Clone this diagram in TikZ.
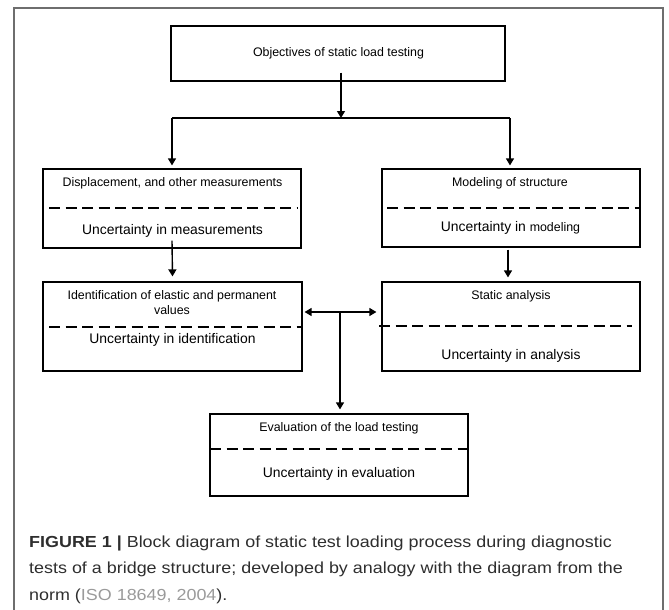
\documentclass[tikz,border=0pt]{standalone}
\usepackage{fontspec}
\setmainfont{Liberation Sans}
\newfontfamily\capfont[FakeStretch=1.12]{Liberation Sans}
\usetikzlibrary{arrows.meta,calc}
\definecolor{framegray}{HTML}{6E6E6E}
\definecolor{captext}{HTML}{2E2E2E}
\definecolor{refgray}{HTML}{9A9A9A}
\begin{document}
\begin{tikzpicture}[x=1pt,y=-1pt,
  box/.style={draw=black, line width=1.2pt, inner sep=0pt, rectangle},
  hdr/.style={font=\fontsize{12.4}{14}\selectfont, inner sep=0pt, text height=9pt, text depth=2.6pt},
  unc/.style={font=\fontsize{13.9}{16}\selectfont, inner sep=0pt, text height=10pt, text depth=2.9pt},
  sepline/.style={line width=1.8pt, dash pattern=on 11pt off 5.5pt},
  arr/.style={line width=1.4pt, -{Triangle[length=7pt,width=8pt]}},
  dblarr/.style={line width=1.4pt, {Triangle[length=7pt,width=8pt]}-{Triangle[length=7pt,width=8pt]}},
  plain/.style={line width=1.4pt},
  capn/.style={font=\capfont\fontsize{16}{20}\selectfont, text=captext, inner sep=0pt, anchor=base west}]
\useasboundingbox (0,0) rectangle (669,610);
% outer frame (open at bottom)
\draw[framegray, line width=1.4pt] (14,614) -- (14,8) -- (663,8) -- (663,614);

% boxes
\node[box, minimum width=334pt, minimum height=55pt] (top) at (338,53.5) {};
\node[box, minimum width=258pt, minimum height=79pt] (disp) at (172,208.5) {};
\node[box, minimum width=258pt, minimum height=78pt] (model) at (511,208) {};
\node[box, minimum width=259pt, minimum height=89pt] (ident) at (172.5,326.5) {};
\node[box, minimum width=258pt, minimum height=89pt] (stat) at (511,326.5) {};
\node[box, minimum width=258pt, minimum height=82pt] (eval) at (339,455) {};

% separators
\draw[sepline] (49,208) -- (297,208);
\draw[sepline] (387,208) -- (640,208);
\draw[sepline] (49,327) -- (302,327);
\draw[sepline] (379,326) -- (632,326);
\draw[sepline] (210,449) -- (468,449);

% texts
\node[hdr] (topt) at (338.5,53) {Objectives of static load testing};
\node[hdr] (dispt) at (172.5,183) {Displacement, and other measurements};
\node[unc] (dispu) at (172.5,231) {Uncertainty in measurements};
\node[hdr] (modt) at (510,183) {Modeling of structure};
\node[unc] (modu) at (510.5,228) {Uncertainty in {\fontsize{12.4}{14}\selectfont modeling}};
\node[hdr] (idt1) at (172,296) {Identification of elastic and permanent};
\node[hdr] (idt2) at (172,311) {values};
\node[unc] (idu) at (172.5,340) {Uncertainty in identification};
\node[hdr] (stt) at (511,296) {Static analysis};
\node[unc] (stu) at (511,356) {Uncertainty in analysis};
\node[hdr] (evt) at (339,428) {Evaluation of the load testing};
\node[unc] (evu) at (339,474) {Uncertainty in evaluation};

% connectors
\coordinate (split) at (341,118);
\coordinate (sl) at (172,118);
\coordinate (sr) at (510,118);
\coordinate (j) at (340,312);
\draw[arr] ([yshift=9pt]top.south -| split) -- (split);
\draw[plain] (sl) -- (sr);
\draw[arr] (sl) -- ([yshift=3pt]disp.north -| sl);
\draw[arr] (sr) -- ([yshift=3pt]model.north -| sr);
\draw[arr] ([yshift=8pt]disp.south) -- ([yshift=5pt]ident.north);
\draw[arr] ([xshift=-3pt,yshift=-2pt]model.south) -- ([xshift=-3pt,yshift=4pt]stat.north);
\draw[dblarr] ([xshift=2pt]ident.east |- j) -- ([xshift=-5pt]stat.west |- j);
\draw[arr] (j) -- ([yshift=4pt]eval.north -| j);

% caption
\node[capn] (cap1) at (29,547) {\textbf{FIGURE 1 |} Block diagram of static test loading process during diagnostic};
\node[capn] (cap2) at (29,573.5) {tests of a bridge structure; developed by analogy with the diagram from the};
\node[capn] (cap3) at (29,600) {norm ({\color{refgray}ISO 18649, 2004}).};
\end{tikzpicture}
\end{document}
